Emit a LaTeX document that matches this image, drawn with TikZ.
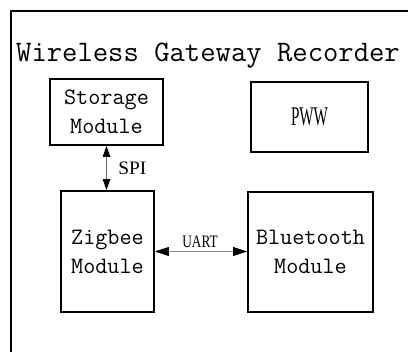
\documentclass[tikz,border=0pt]{standalone}
\usepackage{fontspec}
\usepackage{graphicx}
\usetikzlibrary{arrows.meta}
\newfontfamily\lblfont{Liberation Serif}
\begin{document}
\begin{tikzpicture}[x=1pt,y=-1pt,
  module/.style={draw, line width=1.8pt, inner sep=0pt, align=center,
    font=\fontsize{23.5}{29}\selectfont\ttfamily},
  lbl/.style={inner sep=0pt},
  spilink/.style={line width=0.8pt, draw=black!60,
    {Triangle[length=11pt,width=7.5pt,color=black]}-{Triangle[length=11pt,width=7.5pt,color=black]}},
  uartlink/.style={line width=0.8pt, draw=black!45,
    {Triangle[length=14pt,width=9pt,color=black]}-{Triangle[length=14pt,width=9pt,color=black]}}]
\useasboundingbox (0,0) rectangle (408,352);
\node[draw, line width=2pt, minimum width=460pt, minimum height=420pt,
  anchor=north west, inner sep=0pt] (frame) at (10,10) {};
\node[anchor=base, inner sep=0pt, font=\fontsize{29.8}{36}\selectfont\ttfamily]
  (title) at (208,62) {Wireless Gateway Recorder};
\node[module, minimum width=113pt, minimum height=66pt] (storage) at (106.5,112) {Storage\\Module};
\node[module, minimum width=117pt, minimum height=70pt] (pww) at (309.5,117)
  {\lblfont\fontsize{27}{30}\selectfont\scalebox{0.56}[1]{PWW}};
\node[module, minimum width=93pt, minimum height=121pt] (zigbee) at (107.5,251.5) {Zigbee\\Module};
\node[module, minimum width=125pt, minimum height=120pt] (bluetooth) at (310.5,252) {Bluetooth\\Module};
\draw[spilink] (storage.south) -- (storage.south |- zigbee.north)
  node[lbl, midway, anchor=west, xshift=11.5pt]
  (spi) {\lblfont\fontsize{19}{20}\selectfont\scalebox{1.02}[1]{SPI}};
\draw[uartlink] (zigbee.east) -- (zigbee.east -| bluetooth.west)
  node[lbl, midway, anchor=south, yshift=3.5pt, xshift=-1pt]
  (uart) {\lblfont\fontsize{17.5}{20}\selectfont\scalebox{0.76}[1]{UART}};
\end{tikzpicture}
\end{document}
